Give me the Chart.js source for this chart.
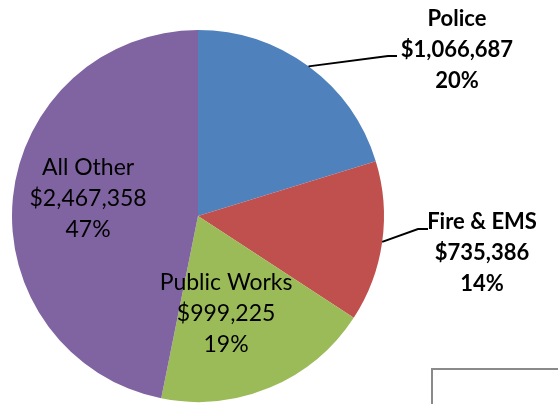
<!DOCTYPE html>
<html>
<head>
<meta charset="utf-8">
<script src="https://cdn.jsdelivr.net/npm/chart.js@4"></script>
<style>
  html, body { margin: 0; padding: 0; background: #fff; }
  #wrap { position: relative; width: 558px; height: 404px; overflow: hidden; }
  #box { position: absolute; left: 431px; top: 368px; width: 200px; height: 100px;
         border: 2px solid #8a8a8a; box-shadow: 1px 1px 1px #c8c8c8; background: #fff; }
</style>
</head>
<body>
<div id="wrap">
  <canvas id="budgetChart" width="558" height="404"></canvas>
  <div id="box"></div>
</div>
<script>
const categories = ['Police', 'Fire & EMS', 'Public Works', 'All Other'];
const amounts = [1066687, 735386, 999225, 2467358];
const amountLabels = ['$1,066,687', '$735,386', '$999,225', '$2,467,358'];
const percentLabels = ['20%', '14%', '19%', '47%'];
const sliceColors = ['#4F81BD', '#C0504D', '#9BBB59', '#8064A2'];

// label placement, relative to pie center in units of radius
const labelSpots = [
    { dx: 1.392, dy: -0.895, bold: true, leader: [[1.0215, -0.860], [1.0699, -0.860]] },
    { dx: 1.527, dy: 0.197, bold: true, leader: [[1.1828, 0.070], [1.2366, 0.070]] },
    { dx: 0.151, dy: 0.527, bold: false },
    { dx: -0.591, dy: -0.091, bold: false }
];

const labelPlugin = {
    id: 'sliceLabels',
    afterDatasetsDraw(chart) {
        const ctx = chart.ctx;
        const meta = chart.getDatasetMeta(0);
        meta.data.forEach(function (arc, i) {
            const spot = labelSpots[i];
            const cx = arc.x, cy = arc.y, r = arc.outerRadius;
            if (spot.leader) {
                const mid = (arc.startAngle + arc.endAngle) / 2;
                ctx.save();
                ctx.strokeStyle = '#000';
                ctx.lineWidth = 2;
                ctx.beginPath();
                ctx.moveTo(cx + Math.cos(mid) * r, cy + Math.sin(mid) * r);
                spot.leader.forEach(function (p) {
                    ctx.lineTo(cx + p[0] * r, cy + p[1] * r);
                });
                ctx.stroke();
                ctx.restore();
            }
            const lines = [categories[i], amountLabels[i], percentLabels[i]];
            const x = cx + spot.dx * r;
            const y = cy + spot.dy * r;
            ctx.save();
            ctx.fillStyle = '#000';
            ctx.textAlign = 'center';
            ctx.textBaseline = 'middle';
            ctx.font = spot.bold ? 'bold 22px Lato, "Open Sans", sans-serif'
                                 : '23px Lato, "Open Sans", sans-serif';
            lines.forEach(function (t, j) {
                ctx.fillText(t, x, y + (j - 1) * 31);
            });
            ctx.restore();
        });
    }
};

new Chart(document.getElementById('budgetChart'), {
    type: 'pie',
    data: {
        labels: categories,
        datasets: [{
            data: amounts,
            backgroundColor: sliceColors,
            borderWidth: 0
        }]
    },
    options: {
        responsive: false,
        animation: false,
        layout: { padding: { left: 12, right: 174, top: 30, bottom: 2 } },
        plugins: { legend: { display: false }, tooltip: { enabled: false } }
    },
    plugins: [labelPlugin]
});
</script>
</body>
</html>
